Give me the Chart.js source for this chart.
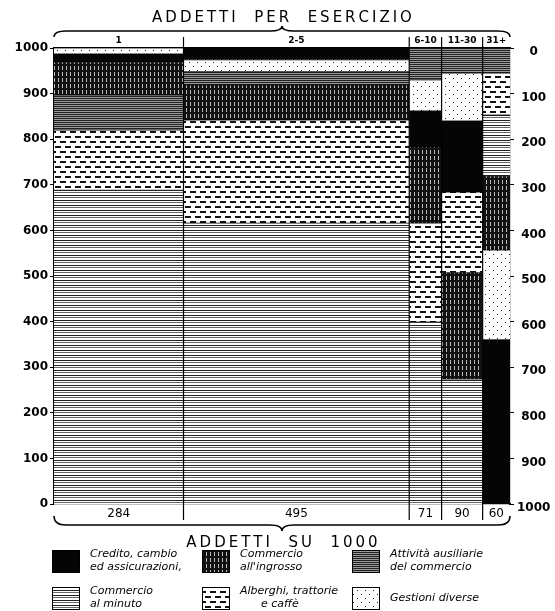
<!DOCTYPE html>
<html>
<head>
<meta charset="utf-8">
<script src="https://cdn.jsdelivr.net/npm/chart.js@4.4.1/dist/chart.umd.min.js"></script>
<style>
  html, body { margin: 0; padding: 0; background: #fff; }
  #wrap { width: 555px; height: 611px; }
</style>
</head>
<body>
<div id="wrap"><canvas id="chart"></canvas></div>
<script>
// Column classes (addetti per esercizio) and their width (addetti su 1000)
const classes = ['1', '2-5', '6-10', '11-30', '31+'];
const addetti = [284, 495, 71, 90, 60];

// Share of each branch inside each column, per 1000
const credito    = [18, 26, 79, 156, 360];
const ingrosso   = [72, 77, 167, 233, 162];
const ausiliarie = [77, 29, 70, 55, 55];
const minuto     = [688, 616, 399, 274, 134];
const alberghi   = [132, 226, 217, 177, 92];
const gestioni   = [13, 26, 68, 105, 197];

// Order of the bands in each column, bottom to top
const order = [
    ['minuto', 'alberghi', 'ausiliarie', 'ingrosso', 'credito', 'gestioni'],
    ['minuto', 'alberghi', 'ingrosso', 'ausiliarie', 'gestioni', 'credito'],
    ['minuto', 'alberghi', 'ingrosso', 'credito', 'gestioni', 'ausiliarie'],
    ['minuto', 'ingrosso', 'alberghi', 'credito', 'gestioni', 'ausiliarie'],
    ['credito', 'gestioni', 'ingrosso', 'minuto', 'alberghi', 'ausiliarie']
];

const legendOrder = ['credito', 'ingrosso', 'ausiliarie', 'minuto', 'alberghi', 'gestioni'];
const legendLabels = {
    credito: ['Credito, cambio', 'ed assicurazioni,'],
    ingrosso: ['Commercio', "all'ingrosso"],
    ausiliarie: ['Attività ausiliarie', 'del commercio'],
    minuto: ['Commercio', 'al minuto'],
    alberghi: ['Alberghi, trattorie', '      e caffè'],
    gestioni: ['Gestioni diverse']
};

const series = { credito, ingrosso, ausiliarie, minuto, alberghi, gestioni };

const canvas = document.getElementById('chart');
const ctx = canvas.getContext('2d');

// Hatching patterns like the printed original
function makePattern(w, h, draw) {
    const c = document.createElement('canvas');
    c.width = w;
    c.height = h;
    const g = c.getContext('2d');
    g.fillStyle = '#fff';
    g.fillRect(0, 0, w, h);
    draw(g);
    return ctx.createPattern(c, 'repeat');
}

const fills = {
    credito: '#050505',
    ingrosso: makePattern(4, 6, g => {
        g.fillStyle = '#111';
        g.fillRect(0, 0, 4, 6);
        g.fillStyle = '#bbb';
        g.fillRect(2, 0, 1, 4);
    }),
    ausiliarie: makePattern(4, 2, g => {
        g.fillStyle = '#222';
        g.fillRect(0, 0, 4, 1);
        g.fillStyle = '#999';
        g.fillRect(0, 1, 4, 1);
    }),
    minuto: makePattern(4, 5, g => {
        g.fillStyle = '#222';
        g.fillRect(0, 0, 4, 1);
        g.fillStyle = '#666';
        g.fillRect(0, 2, 4, 1);
    }),
    alberghi: makePattern(10, 10, g => {
        g.fillStyle = '#111';
        g.fillRect(0, 1, 6, 2);
        g.fillRect(5, 6, 5, 2);
        g.fillRect(0, 6, 1, 2);
    }),
    gestioni: makePattern(8, 8, g => {
        g.fillStyle = '#222';
        g.fillRect(1, 2, 1, 1);
        g.fillRect(5, 6, 1, 1);
    })
};

// column edges and centres on the 0-1000 x scale
const edges = [0];
addetti.forEach((w, i) => edges.push(edges[i] + w));
const centers = addetti.map((w, i) => edges[i] + w / 2);

const datasets = [];

// column separators, running into the label rows
edges.slice(1, -1).forEach(x => {
    datasets.push({
        data: [{ x: x, y: -35 }, { x: x, y: 1024 }],
        borderColor: '#000',
        borderWidth: 1.2,
        pointRadius: 0,
        showLine: true,
        fill: false,
        clip: false,
        order: 0
    });
});

// one filled band per branch and column
order.forEach((bands, c) => {
    let base = 0;
    bands.forEach(name => {
        const top = base + series[name][c];
        datasets.push({
            label: name,
            data: [{ x: edges[c], y: top }, { x: edges[c + 1], y: top }],
            fill: { value: base },
            backgroundColor: fills[name],
            borderColor: '#000',
            borderWidth: 0.8,
            pointRadius: 0,
            showLine: true,
            order: 1
        });
        base = top;
    });
});

const spaced = s => s.split('').join('\u2009');

function brace(g, l, r, yEnd, yMid, yTip) {
    const c = (l + r) / 2, k = 12;
    g.beginPath();
    g.moveTo(l, yEnd);
    g.quadraticCurveTo(l, yMid, l + k, yMid);
    g.lineTo(c - k, yMid);
    g.quadraticCurveTo(c, yMid, c, yTip);
    g.quadraticCurveTo(c, yMid, c + k, yMid);
    g.lineTo(r - k, yMid);
    g.quadraticCurveTo(r, yMid, r, yEnd);
    g.stroke();
}

// braces round the label rows and the pattern legend
const decorations = {
    id: 'decorations',
    afterDraw(chart) {
        const g = chart.ctx;
        const a = chart.chartArea;
        g.save();
        g.strokeStyle = '#000';
        g.lineWidth = 1.5;
        brace(g, a.left, a.right, a.top - 11, a.top - 17, a.top - 22);
        brace(g, a.left, a.right, a.bottom + 12, a.bottom + 21, a.bottom + 27);

        g.font = 'italic 11px "DejaVu Sans"';
        g.textBaseline = 'middle';
        g.textAlign = 'left';
        legendOrder.forEach((name, i) => {
            const col = i % 3, row = Math.floor(i / 3);
            const x = a.left - 2 + col * 150;
            const y = a.bottom + 46 + row * 37;
            g.fillStyle = fills[name];
            g.fillRect(x, y, 27, 22);
            g.lineWidth = 1;
            g.strokeRect(x + 0.5, y + 0.5, 27, 22);
            const lines = legendLabels[name];
            g.fillStyle = '#000';
            lines.forEach((t, j) => {
                g.fillText(t, x + 38, y + 11 + (j - (lines.length - 1) / 2) * 13);
            });
        });
        g.restore();
    }
};

Chart.defaults.font.family = "'DejaVu Sans'";
Chart.defaults.color = '#000';

new Chart(ctx, {
    type: 'scatter',
    data: { datasets: datasets },
    options: {
        responsive: true,
        maintainAspectRatio: false,
        animation: false,
        events: [],
        layout: { padding: { bottom: 59 } },
        plugins: {
            legend: { display: false },
            tooltip: { enabled: false }
        },
        scales: {
            x: {
                type: 'linear',
                min: 0,
                max: 1000,
                afterBuildTicks: s => { s.ticks = centers.map(value => ({ value })); },
                afterFit: s => { s.height = 48; },
                ticks: {
                    callback: (v, i) => addetti[i],
                    font: { size: 12 },
                    padding: 3,
                    maxRotation: 0,
                    autoSkip: false
                },
                grid: { drawOnChartArea: false, drawTicks: false },
                border: { color: '#000', width: 1.2 },
                title: {
                    display: true,
                    text: spaced('ADDETTI  SU  1000'),
                    font: { size: 15 },
                    padding: 0
                }
            },
            xTop: {
                type: 'linear',
                position: 'top',
                min: 0,
                max: 1000,
                afterBuildTicks: s => { s.ticks = centers.map(value => ({ value })); },
                afterFit: s => { s.height = 48; },
                ticks: {
                    callback: (v, i) => classes[i],
                    font: { size: 9, weight: 'bold' },
                    padding: 2,
                    maxRotation: 0,
                    autoSkip: false
                },
                grid: { drawOnChartArea: false, drawTicks: false },
                border: { color: '#000', width: 1.2 },
                title: {
                    display: true,
                    text: spaced('ADDETTI  PER  ESERCIZIO'),
                    font: { size: 15 },
                    padding: { top: 9, bottom: 0 }
                }
            },
            y: {
                min: 0,
                max: 1000,
                afterFit: s => { s.width = 54; },
                ticks: {
                    stepSize: 100,
                    callback: v => String(v),
                    font: { size: 12, weight: 'bold' },
                    padding: 2
                },
                grid: { drawOnChartArea: false, tickLength: 4, color: '#000' },
                border: { color: '#000', width: 1.2 }
            },
            y2: {
                position: 'right',
                reverse: true,
                min: 0,
                max: 1000,
                afterFit: s => { s.width = 45; },
                ticks: {
                    stepSize: 100,
                    callback: v => String(v),
                    font: { size: 12, weight: 'bold' },
                    padding: 3,
                    crossAlign: 'center',
                    labelOffset: 4
                },
                grid: { drawOnChartArea: false, tickLength: 4, color: '#000' },
                border: { color: '#000', width: 1.2 }
            }
        }
    },
    plugins: [decorations]
});
</script>
</body>
</html>
